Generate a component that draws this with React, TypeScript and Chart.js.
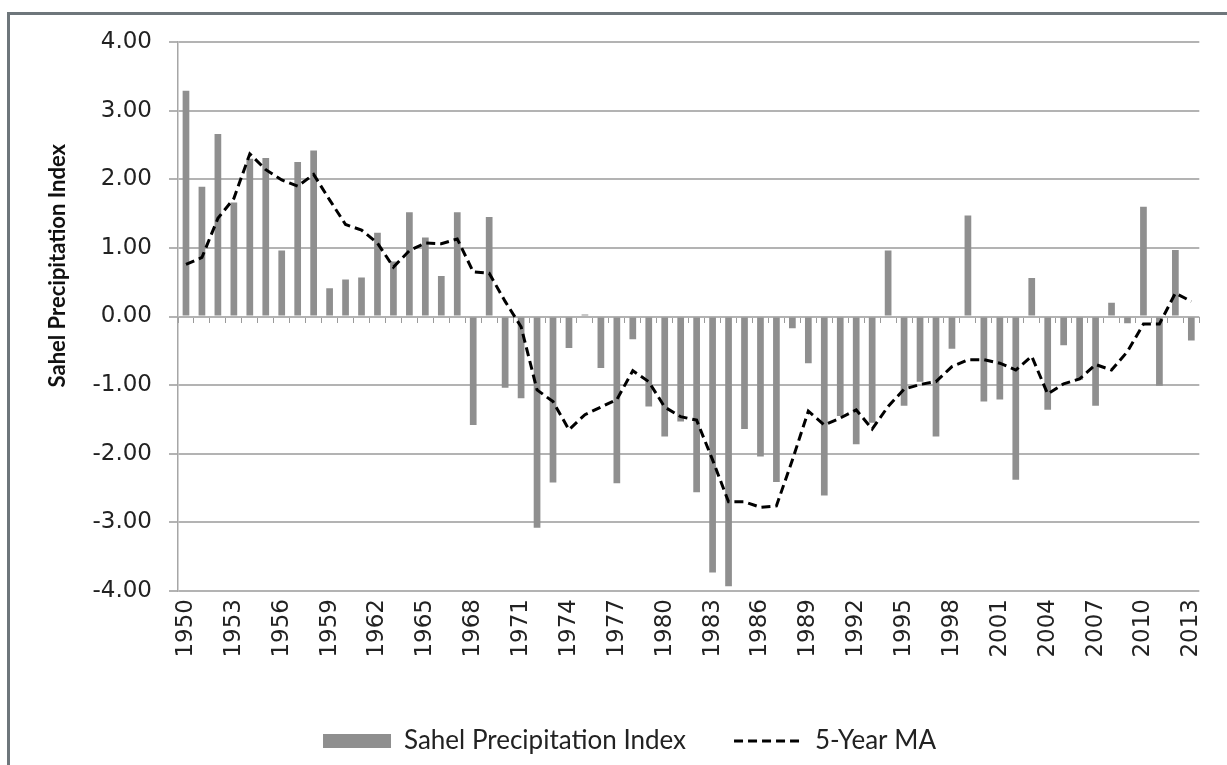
import React, { useEffect, useRef } from "react";
import { Chart, registerables } from "chart.js";

Chart.register(...registerables);

const years = [
  "1950", "1951", "1952", "1953", "1954", "1955", "1956", "1957", "1958", "1959",
  "1960", "1961", "1962", "1963", "1964", "1965", "1966", "1967", "1968", "1969",
  "1970", "1971", "1972", "1973", "1974", "1975", "1976", "1977", "1978", "1979",
  "1980", "1981", "1982", "1983", "1984", "1985", "1986", "1987", "1988", "1989",
  "1990", "1991", "1992", "1993", "1994", "1995", "1996", "1997", "1998", "1999",
  "2000", "2001", "2002", "2003", "2004", "2005", "2006", "2007", "2008", "2009",
  "2010", "2011", "2012", "2013",
];

const precipitationIndex = [
  3.29, 1.89, 2.66, 1.66, 2.30, 2.31, 0.96, 2.25, 2.42, 0.41,
  0.54, 0.57, 1.22, 0.80, 1.52, 1.15, 0.59, 1.52, -1.58, 1.45,
  -1.04, -1.19, -3.08, -2.42, -0.46, 0.03, -0.75, -2.43, -0.33, -1.31,
  -1.75, -1.53, -2.56, -3.73, -3.93, -1.64, -2.04, -2.41, -0.17, -0.68,
  -2.61, -1.45, -1.86, -1.55, 0.96, -1.30, -0.95, -1.75, -0.47, 1.47,
  -1.24, -1.21, -2.38, 0.56, -1.36, -0.42, -0.92, -1.30, 0.20, -0.10,
  1.60, -1.01, 0.97, -0.35,
];

const movingAverage = [
  0.76, 0.86, 1.43, 1.72, 2.37, 2.14, 1.99, 1.90, 2.07, 1.70,
  1.34, 1.26, 1.07, 0.72, 0.96, 1.07, 1.06, 1.13, 0.65, 0.63,
  0.22, -0.15, -1.07, -1.24, -1.65, -1.43, -1.32, -1.21, -0.79, -0.95,
  -1.32, -1.46, -1.51, -2.09, -2.70, -2.70, -2.78, -2.76, -2.09, -1.38,
  -1.58, -1.48, -1.36, -1.64, -1.31, -1.06, -0.99, -0.95, -0.73, -0.63,
  -0.63, -0.68, -0.78, -0.58, -1.13, -0.98, -0.91, -0.70, -0.78, -0.51,
  -0.11, -0.11, 0.34, 0.22,
];

const shownYearLabels = [
  "1950", "1953", "1956", "1959", "1962", "1965", "1968", "1971", "1974", "1977", "1980",
  "1983", "1986", "1989", "1992", "1995", "1998", "2001", "2004", "2007", "2010", "2013",
];

const yMin = -4;
const yMax = 4;
const yStep = 1;

const yTitle = "Sahel Precipitation Index";
const barColor = "#8f8f8f";
const gridColor = "#b3b3b3";
const tickFont = "'DejaVu Sans', Verdana, sans-serif";
const labelFont = "Lato, 'Open Sans', sans-serif";
const titleSize = 22;

function shiftedTitle(): string {
  // the reference's axis title sits ~51px above the plot's vertical centre;
  // leading spaces push the visible text upward by half their width
  try {
    const c = document.createElement("canvas").getContext("2d");
    if (!c) return yTitle;
    c.font = `bold ${titleSize}px ${labelFont}`;
    const sw = c.measureText(" ").width || 5;
    const n = Math.max(0, Math.round(102 / sw));
    return " ".repeat(n) + yTitle;
  } catch {
    return yTitle;
  }
}

export default function App() {
  const canvasRef = useRef<HTMLCanvasElement | null>(null);

  useEffect(() => {
    const canvas = canvasRef.current;
    if (!canvas) return;
    const chart = new Chart(canvas, {
      type: "bar",
      data: {
        labels: years,
        datasets: [
          {
            type: "bar",
            label: "Sahel Precipitation Index",
            data: precipitationIndex,
            backgroundColor: barColor,
            borderWidth: 0,
            barPercentage: 0.42,
            categoryPercentage: 1,
            order: 1,
          },
          {
            type: "line",
            label: "5-Year MA",
            data: movingAverage,
            borderColor: "#000000",
            backgroundColor: "#000000",
            borderWidth: 3,
            borderDash: [9, 5],
            pointRadius: 0,
            tension: 0,
            fill: false,
            order: 0,
          },
        ],
      },
      options: {
        responsive: false,
        animation: false,
        devicePixelRatio: 1,
        layout: { padding: { left: 42, right: 10, top: 42, bottom: 1 } },
        scales: {
          x: {
            type: "category",
            position: "bottom",
            offset: true,
            grid: { display: false, drawTicks: false },
            border: { display: false },
            ticks: {
              autoSkip: false,
              minRotation: 90,
              maxRotation: 90,
              padding: 8,
              color: "#222222",
              font: { family: tickFont, size: 23 },
              callback: (_v: any, i: number) =>
                shownYearLabels.includes(years[i]) ? years[i] : "",
            },
            afterFit: (scale: any) => {
              scale.height = 89;
            },
          },
          xz: {
            type: "category",
            position: { y: 0 },
            offset: true,
            grid: {
              display: true,
              offset: true,
              drawOnChartArea: false,
              drawTicks: true,
              tickLength: 6,
              color: "#9a9a9a",
              lineWidth: 1,
            },
            border: { display: false },
            ticks: { display: false, autoSkip: false },
          },
          y: {
            min: yMin,
            max: yMax,
            grid: {
              color: gridColor,
              lineWidth: 2,
              drawTicks: true,
              tickLength: 9,
            },
            border: { display: true, color: "#a6a6a6", width: 1.5 },
            ticks: {
              stepSize: yStep,
              padding: 17,
              color: "#222222",
              font: { family: tickFont, size: 23 },
              callback: (v: any) => Number(v).toFixed(2),
            },
            title: {
              display: true,
              text: shiftedTitle(),
              color: "#111111",
              font: { family: labelFont, size: titleSize, weight: "bold" },
              padding: { top: 3, bottom: 0 },
            },
            afterFit: (scale: any) => {
              scale.width = 136;
            },
          },
        },
        plugins: {
          tooltip: { enabled: false },
          legend: {
            position: "bottom",
            labels: {
              usePointStyle: true,
              pointStyleWidth: 68,
              boxHeight: 14,
              padding: 48,
              color: "#222222",
              font: { family: labelFont, size: 26 },
              generateLabels: (c: any) => {
                const items = Chart.defaults.plugins.legend.labels.generateLabels(c);
                items.forEach((it: any) => {
                  if (it.datasetIndex === 0) {
                    it.pointStyle = "rect";
                    it.lineWidth = 0;
                    it.fillStyle = barColor;
                    it.strokeStyle = barColor;
                  } else {
                    it.pointStyle = "line";
                    it.lineDash = [9, 5];
                    it.lineWidth = 3;
                    it.strokeStyle = "#000000";
                    it.fillStyle = "#000000";
                  }
                });
                return items.sort((a: any, b: any) => a.datasetIndex - b.datasetIndex);
              },
            },
          },
        },
      } as any,
    });
    return () => chart.destroy();
  }, []);

  return (
    <div
      style={{
        position: "absolute",
        left: 0,
        top: 0,
        width: 1227,
        height: 765,
        overflow: "hidden",
        background: "#ffffff",
      }}
    >
      <div
        style={{
          position: "absolute",
          left: 7,
          top: 12,
          width: 1400,
          height: 1000,
          borderLeft: "3px solid #6e767b",
          borderTop: "3px solid #6e767b",
        }}
      />
      <canvas
        ref={canvasRef}
        width={1227}
        height={765}
        style={{ position: "absolute", left: 0, top: 0, display: "block" }}
      />
    </div>
  );
}
